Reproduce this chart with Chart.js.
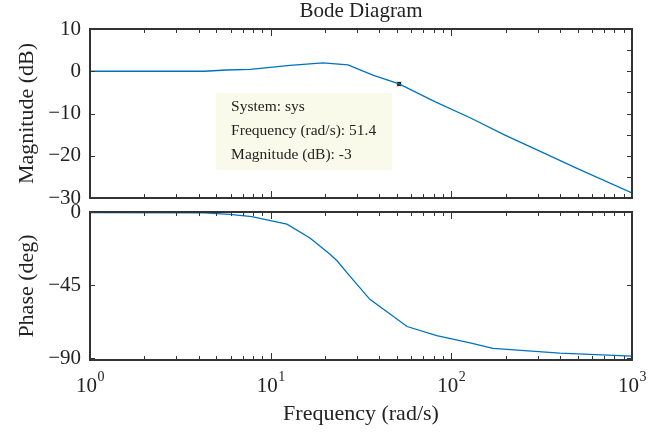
<!DOCTYPE html>
<html>
<head>
<meta charset="utf-8">
<script src="https://cdn.jsdelivr.net/npm/chart.js@4/dist/chart.umd.min.js"></script>
<style>
  body { margin: 0; background: #fff; }
  #wrap { position: relative; width: 669px; height: 434px; }
  canvas { position: absolute; left: 0; }
  #magChart { top: 0; }
  #phaseChart { top: 200px; }
</style>
</head>
<body>
<div id="wrap">
  <canvas id="magChart" width="669" height="205"></canvas>
  <canvas id="phaseChart" width="669" height="234"></canvas>
</div>
<script>
// magnitude curve (rad/s, dB)
const magFreq = [1, 4.3, 5.7, 7.7, 12.8, 19.5, 26.8, 36.8, 51.4, 81, 127, 198, 298, 496, 1000];
const magDb   = [0, 0, 0.3, 0.45, 1.4, 2.0, 1.5, -0.9, -3, -7.2, -11, -15.1, -18.6, -23, -28.8];

// phase curve (rad/s, deg)
const phaseFreq = [1, 4.3, 5.95, 7.86, 12.3, 16.5, 21.3, 23.3, 27, 35.4, 56.9, 83, 127, 170, 398, 1000];
const phaseDeg  = [-0.3, -0.5, -1.4, -2.8, -7.5, -16, -26, -30, -38.5, -53.7, -70.4, -76, -80.5, -83.8, -86.8, -88.6];

// data tip
const tipFreq = 51.4;
const tipMag = -3;

// ticks
const magTicks = [10, 0, -10, -20, -30];
const magRightTicks = [5, 0, -5, -10, -15, -20, -25];
const phaseTicks = [0, -45, -90];
const decades = [0, 1, 2, 3];

const lineColor = '#0072bd';
const axisColor = '#333333';
const textColor = '#222222';
const serif = '"Liberation Serif", "DejaVu Serif", serif';

function minusLabel(v) {
  return v < 0 ? '\u2212' + Math.abs(v) : String(v);
}

function toPoints(xs, ys) {
  return xs.map((x, i) => ({x: x, y: ys[i]}));
}

// frame with inward ticks on all four sides, like MATLAB boxes
const bodeFrame = {
  id: 'bodeFrame',
  afterDatasetsDraw(chart, args, opts) {
    const {ctx, chartArea: a, scales} = chart;
    const xs = scales.x, ys = scales.y;
    ctx.save();
    ctx.strokeStyle = axisColor;
    ctx.lineWidth = 1;
    ctx.beginPath();
    for (let d = 0; d < decades.length; d++) {
      const base = Math.pow(10, decades[d]);
      for (let k = 1; k < 10; k++) {
        if (d === decades.length - 1 && k > 1) break;
        const px = Math.round(xs.getPixelForValue(base * k)) + 0.5;
        const len = k === 1 ? 7 : 4;
        ctx.moveTo(px, a.top); ctx.lineTo(px, a.top + len);
        ctx.moveTo(px, a.bottom); ctx.lineTo(px, a.bottom - len);
      }
    }
    opts.left.forEach(v => {
      const py = Math.round(ys.getPixelForValue(v)) + 0.5;
      ctx.moveTo(a.left, py); ctx.lineTo(a.left + 5, py);
    });
    opts.right.forEach(v => {
      const py = Math.round(ys.getPixelForValue(v)) + 0.5;
      ctx.moveTo(a.right, py); ctx.lineTo(a.right - 5, py);
    });
    ctx.stroke();
    ctx.lineWidth = 2;
    ctx.strokeRect(a.left, a.top, a.right - a.left, a.bottom - a.top);

    if (opts.tip) {
      const m = chart.getDatasetMeta(1).data[0];
      const bx = m.x - 183, by = m.y + 9;
      ctx.fillStyle = '#fafaeb';
      ctx.fillRect(bx, by, 176, 77);
      ctx.fillStyle = textColor;
      ctx.font = '15.5px ' + serif;
      ctx.textBaseline = 'middle';
      const lines = ['System: sys', 'Frequency (rad/s): ' + tipFreq, 'Magnitude (dB): ' + tipMag];
      lines.forEach((t, i) => ctx.fillText(t, bx + 15, by + 14 + i * 24));
    }

    if (opts.xLabels) {
      ctx.fillStyle = textColor;
      ctx.textBaseline = 'alphabetic';
      decades.forEach(d => {
        const px = xs.getPixelForValue(Math.pow(10, d));
        ctx.font = '21px ' + serif;
        const w1 = ctx.measureText('10').width;
        ctx.font = '14px ' + serif;
        const w2 = ctx.measureText(String(d)).width;
        const x0 = px - (w1 + w2) / 2;
        ctx.font = '21px ' + serif;
        ctx.fillText('10', x0, a.bottom + 32);
        ctx.font = '14px ' + serif;
        ctx.fillText(String(d), x0 + w1 + 0.5, a.bottom + 21);
      });
    }
    ctx.restore();
  }
};

function yAxis(title, min, max, ticks) {
  return {
    type: 'linear',
    min: min,
    max: max,
    afterBuildTicks: s => { s.ticks = ticks.map(v => ({value: v})); },
    afterFit: s => { s.width = 90; s.paddingTop = 0; s.paddingBottom = 0; },
    grid: {display: false, drawTicks: false},
    border: {display: false},
    ticks: {
      color: textColor,
      font: {family: serif, size: 21},
      padding: 9,
      callback: v => minusLabel(v)
    },
    title: {
      display: true,
      text: title,
      color: textColor,
      font: {family: serif, size: 22},
      padding: {top: 14, bottom: 0}
    }
  };
}

new Chart(document.getElementById('magChart'), {
  type: 'line',
  data: {
    datasets: [{
      data: toPoints(magFreq, magDb),
      borderColor: lineColor,
      borderWidth: 1.3,
      pointRadius: 0,
      tension: 0
    }, {
      data: [{x: tipFreq, y: tipMag}],
      showLine: false,
      pointStyle: 'rect',
      pointRadius: 3.5,
      backgroundColor: '#111111',
      borderColor: '#f4f2c4',
      borderWidth: 1
    }]
  },
  options: {
    responsive: false,
    animation: false,
    layout: {padding: {top: 0, right: 37, bottom: 7, left: 0}, autoPadding: false},
    plugins: {
      legend: {display: false},
      tooltip: {enabled: false},
      title: {
        display: true,
        fullSize: false,
        text: 'Bode Diagram',
        color: textColor,
        font: {family: serif, size: 21, weight: 'normal', lineHeight: 1.1},
        padding: {top: 0, bottom: 29 - 23.1}
      },
      bodeFrame: {left: magTicks, right: magRightTicks, tip: true}
    },
    scales: {
      x: {type: 'logarithmic', min: 1, max: 1000, display: false},
      y: yAxis('Magnitude (dB)', -30, 10, magTicks)
    }
  },
  plugins: [bodeFrame]
});

new Chart(document.getElementById('phaseChart'), {
  type: 'line',
  data: {
    datasets: [{
      data: toPoints(phaseFreq, phaseDeg),
      borderColor: lineColor,
      borderWidth: 1.3,
      pointRadius: 0,
      tension: 0
    }]
  },
  options: {
    responsive: false,
    animation: false,
    layout: {padding: {top: 12, right: 37, bottom: 0, left: 0}, autoPadding: false},
    plugins: {
      legend: {display: false},
      tooltip: {enabled: false},
      bodeFrame: {left: phaseTicks, right: phaseTicks, xLabels: true}
    },
    scales: {
      x: {
        type: 'logarithmic',
        min: 1,
        max: 1000,
        afterFit: s => { s.height = 74; s.paddingLeft = 0; s.paddingRight = 0; },
        grid: {display: false, drawTicks: false},
        border: {display: false},
        ticks: {display: false},
        title: {
          display: true,
          text: 'Frequency (rad/s)',
          color: textColor,
          font: {family: serif, size: 22},
          padding: {top: 0, bottom: 7}
        }
      },
      y: yAxis('Phase (deg)', -91, 0, phaseTicks)
    }
  },
  plugins: [bodeFrame]
});
</script>
</body>
</html>
